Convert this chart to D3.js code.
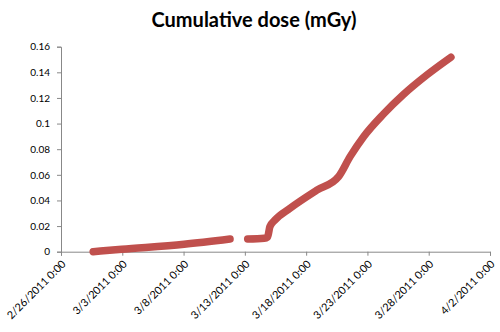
<!DOCTYPE html>
<html>
<head>
<meta charset="utf-8">
<script src="https://cdn.jsdelivr.net/npm/d3@7"></script>
<style>
  html, body { margin: 0; padding: 0; background: #fff; }
  svg { display: block; }
  text { font-family: Lato, "Open Sans", sans-serif; fill: #000; }
</style>
</head>
<body>
<svg id="chart" width="500" height="332"></svg>
<script>
// ---- Data ----
const title = "Cumulative dose (mGy)";
// Segment 1 (before the gap)
const times1 = ["2011-02-28 15:00", "2011-03-02 23:00", "2011-03-08 01:00", "2011-03-11 19:00"];
const dose1  = [0.0000, 0.0019, 0.0058, 0.0099];
// Segment 2 (after the gap)
const times2 = ["2011-03-13 05:30", "2011-03-14 14:00", "2011-03-14 20:30", "2011-03-15 01:00",
                "2011-03-15 11:00", "2011-03-16 16:30", "2011-03-18 21:00", "2011-03-20 15:30",
                "2011-03-21 14:00", "2011-03-22 16:30", "2011-03-24 07:30", "2011-03-25 22:30",
                "2011-03-27 20:30", "2011-03-29 19:30"];
const dose2  = [0.0099, 0.0105, 0.0115, 0.0195,
                0.0247, 0.0339, 0.0480, 0.0586,
                0.0742, 0.0898, 0.1075, 0.1227,
                0.1380, 0.1518];
const xTickDates  = ["2011-02-26", "2011-03-03", "2011-03-08", "2011-03-13", "2011-03-18", "2011-03-23", "2011-03-28", "2011-04-02"];
const xTickLabels = ["2/26/2011 0:00", "3/3/2011 0:00", "3/8/2011 0:00", "3/13/2011 0:00", "3/18/2011 0:00", "3/23/2011 0:00", "3/28/2011 0:00", "4/2/2011 0:00"];
const yTicks = [0, 0.02, 0.04, 0.06, 0.08, 0.1, 0.12, 0.14, 0.16];
const yTickLabels = ["0", "0.02", "0.04", "0.06", "0.08", "0.1", "0.12", "0.14", "0.16"];

// ---- Chart ----
const parse = d3.timeParse("%Y-%m-%d %H:%M");
const parseDay = d3.timeParse("%Y-%m-%d");
const svg = d3.select("#chart");
const mLeft = 61, mRight = 490, mTop = 46.7, mBottom = 251.7;

const x = d3.scaleTime()
  .domain([parseDay(xTickDates[0]), parseDay(xTickDates[xTickDates.length - 1])])
  .range([mLeft, mRight]);
const y = d3.scaleLinear().domain([0, 0.16]).range([mBottom, mTop]);

svg.append("text")
  .attr("x", 254).attr("y", 27)
  .attr("text-anchor", "middle")
  .style("font-size", "20px").style("font-weight", "bold")
  .text(title);

// y axis
const yAxis = d3.axisLeft(y).tickValues(yTicks).tickSize(4).tickPadding(7)
  .tickFormat((d, i) => yTickLabels[i]);
const gy = svg.append("g").attr("transform", `translate(${mLeft},0)`).call(yAxis);
gy.select(".domain").attr("stroke", "#888");
gy.selectAll(".tick line").attr("stroke", "#888");
gy.selectAll(".tick text").style("font-size", "10px").attr("fill", "#000");

// x axis
const xAxis = d3.axisBottom(x).tickValues(xTickDates.map(parseDay)).tickSize(4)
  .tickFormat((d, i) => xTickLabels[i]);
const gx = svg.append("g").attr("transform", `translate(0,${mBottom})`).call(xAxis);
gx.select(".domain").attr("stroke", "#888");
gx.selectAll(".tick line").attr("stroke", "#888");
gx.selectAll(".tick text")
  .style("font-size", "10.8px").attr("fill", "#000")
  .attr("text-anchor", "end")
  .attr("dy", null)
  .attr("y", 0)
  .attr("transform", "translate(5,13) rotate(-45)");

// data line
const line = d3.line()
  .x(d => x(d[0])).y(d => y(d[1]))
  .curve(d3.curveMonotoneX);

const seg1 = times1.map((t, i) => [parse(t), dose1[i]]);
const seg2 = times2.map((t, i) => [parse(t), dose2[i]]);

svg.selectAll("path.series")
  .data([seg1, seg2])
  .join("path")
  .attr("class", "series")
  .attr("d", line)
  .attr("fill", "none")
  .attr("stroke", "#C0504D")
  .attr("stroke-width", 7.5)
  .attr("stroke-linecap", "round")
  .attr("stroke-linejoin", "round");
</script>
</body>
</html>
